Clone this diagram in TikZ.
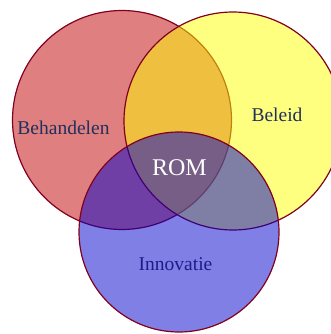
\documentclass[tikz,border=0pt]{standalone}
\usepackage{fontspec}
\setmainfont{Liberation Serif}
\usepackage{xcolor}
\usepackage{tikz}
\usetikzlibrary{shapes, positioning}
\definecolor{rimred}{RGB}{128,0,30}
\definecolor{vennred}{RGB}{192,0,0}
\definecolor{vennyellow}{RGB}{255,255,0}
\definecolor{vennblue}{RGB}{0,0,205}
\definecolor{labelnavy}{RGB}{31,48,92}
\definecolor{labelblue}{RGB}{28,28,138}
\tikzset{
    base/.style={draw=rimred, line width=1.2pt, circle, inner sep=0pt, fill opacity=0.5, draw opacity=1},
    setred/.style={base, fill=vennred, minimum size=219pt},
    setyellow/.style={base, fill=vennyellow, minimum size=218pt},
    setblue/.style={base, fill=vennblue, minimum size=200pt},
    label/.style={font=\fontsize{19.5}{23}\selectfont, text=labelnavy, inner sep=0pt}
}

\begin{document}
\begin{tikzpicture}[x=1pt, y=-1pt]
    \useasboundingbox (0,0) rectangle (331,334);
    \node [setred] (Behandelen) at (122,120) {};
    \node [setyellow] (Beleid) at (233,121) {};
    \node [setblue] (Innovatie) at (179,232) {};

    \node [label] (BehandelenText) at (63.5,127.5) {Behandelen};
    \node [label] (BeleidText) at (277,115) {Beleid};
    \node [label, text=labelblue] (InnovatieText) at (175.5,264.5) {Innovatie};
    \node [label, text=white, font=\fontsize{24}{28}\selectfont] (ROM) at (179.5,167.5) {ROM};
\end{tikzpicture}
\end{document}
